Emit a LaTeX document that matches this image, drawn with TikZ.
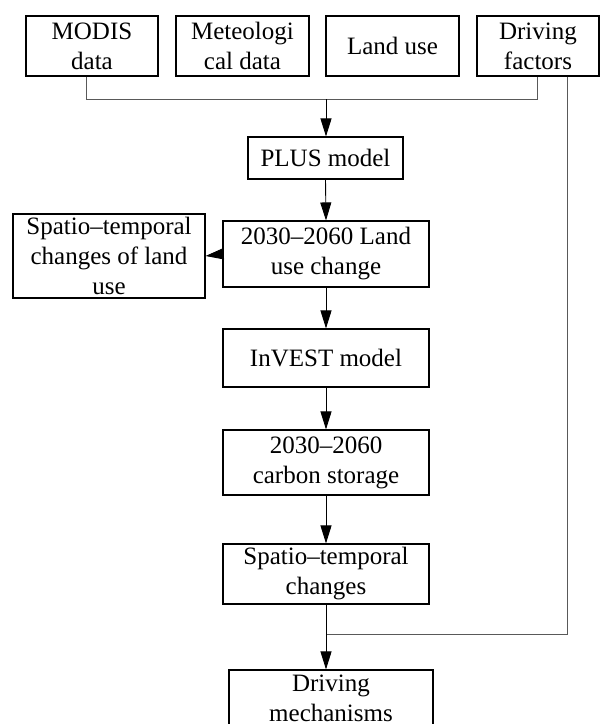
\documentclass[tikz,border=0pt]{standalone}
\usepackage{fontspec}
\setmainfont{Liberation Serif}
\usetikzlibrary{arrows.meta}
\begin{document}
\begin{tikzpicture}[x=1pt,y=-1pt,
  box/.style={draw=black,line width=1.1pt,inner sep=0pt,align=center,
    font=\fontsize{25}{30}\selectfont},
  feed/.style={draw=black!65,line width=0.9pt},
  flow/.style={draw=black,line width=0.9pt},
  tip/.style={-{Triangle[length=18pt,width=11pt]}}]
\useasboundingbox (0,0) rectangle (601,724);
\clip (0,0) rectangle (601,724);
\node[box,minimum width=132pt,minimum height=60pt] (modis) at (92,46) {MODIS\\data};
\node[box,minimum width=133pt,minimum height=60pt] (meteo) at (242.5,46) {Meteologi\\cal data};
\node[box,minimum width=133pt,minimum height=60pt] (landuse) at (392.5,46) {Land use};
\node[box,minimum width=122pt,minimum height=60pt] (drivf) at (538,46) {Driving\\factors};
\node[box,minimum width=155pt,minimum height=42pt] (plus) at (325.5,158) {PLUS model};
\node[box,minimum width=206pt,minimum height=66pt] (luc) at (326,254) {2030–2060 Land\\use change};
\node[box,minimum width=192pt,minimum height=84pt] (stl) at (109,256) {Spatio–temporal\\changes of land\\use};
\node[box,minimum width=206pt,minimum height=58pt] (invest) at (326,358) {InVEST model};
\node[box,minimum width=206pt,minimum height=65pt] (carbon) at (326,462.5) {2030–2060\\carbon storage};
\node[box,minimum width=206pt,minimum height=60pt] (stc) at (326,574) {Spatio–temporal\\changes};
\node[box,minimum width=204pt,minimum height=56pt] (mech) at (331,698) {Driving\\mechanisms};
% input bus
\coordinate (busL) at (86,99);
\coordinate (busR) at (537,99);
\coordinate (busM) at (326,99);
\coordinate (join) at (326,634);
\coordinate (rdrop) at (567,634);
\draw[feed] (modis.south -| busL) -- (busL) -- (busR) -- (drivf.south -| busR);
\draw[flow,tip] (busM) -- (busM |- plus.north);
\draw[flow,tip] (plus.south) -- (luc.north);
\draw[flow,tip] (luc.west) -- (stl.east);
\draw[flow,tip] (luc.south) -- (invest.north);
\draw[flow,tip] (invest.south) -- (carbon.north);
\draw[flow,tip] (carbon.south) -- (stc.north);
\draw[feed] (drivf.south -| rdrop) -- (rdrop) -- (join);
\draw[flow] (stc.south) -- (join);
\draw[flow,tip] (join) -- (join |- mech.north);
\end{tikzpicture}
\end{document}
